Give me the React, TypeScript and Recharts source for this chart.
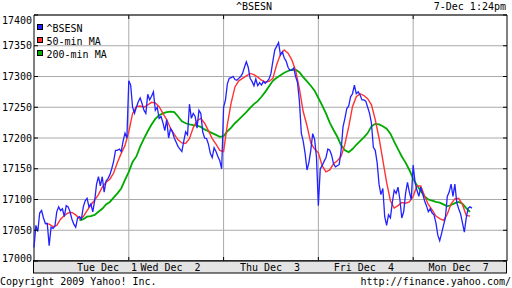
import React from 'react';
import {
  LineChart,
  Line,
  XAxis,
  YAxis,
  CartesianGrid,
  ReferenceLine,
  ReferenceArea,
} from 'recharts';

// x runs in day units: each trading day spans 100, Tue = 0..100, Wed = 100..200 ...
const DAY_NAMES = ['Tue Dec  1', 'Wed Dec  2', 'Thu Dec  3', 'Fri Dec  4', 'Mon Dec  7'];
const DAY_LABEL_AT = [77, 144, 249, 348, 448];
const DAY_BREAKS = [100, 200, 300, 400];
const Y_TICKS = [17000, 17050, 17100, 17150, 17200, 17250, 17300, 17350, 17400];

// ^BSESN, one reading every 2 units
const bseTue = [
  17022, 17058, 17048, 17078, 17082, 17070, 17061, 17061, 17025, 17055,
  17053, 17056, 17080, 17088, 17082, 17085, 17072, 17090, 17088, 17080,
  17068, 17060, 17055, 17070, 17072, 17068, 17088, 17098, 17102, 17088,
  17093, 17080, 17098, 17125, 17137, 17122, 17137, 17112, 17130, 17134,
  17140, 17150, 17162, 17180, 17180, 17182, 17178, 17195, 17208, 17200,
];
const bseWed = [
  17293, 17286, 17250, 17240, 17250, 17259, 17265, 17256, 17245, 17240,
  17271, 17262, 17268, 17275, 17245, 17250, 17232, 17235, 17225, 17212,
  17230, 17200, 17215, 17210, 17200, 17193, 17186, 17182, 17178, 17195,
  17210, 17205, 17255, 17232, 17240, 17235, 17216, 17245, 17240, 17210,
  17200, 17199, 17190, 17175, 17168, 17184, 17178, 17170, 17163, 17150,
];
const bseThu = [
  17250, 17262, 17288, 17297, 17298, 17300, 17295, 17294, 17297, 17300,
  17305, 17315, 17324, 17315, 17297, 17292, 17285, 17296, 17285, 17290,
  17286, 17292, 17289, 17292, 17296, 17305, 17325, 17343, 17349, 17355,
  17335, 17340, 17330, 17325, 17315, 17310, 17310, 17314, 17300, 17290,
  17260, 17208, 17195, 17175, 17148, 17160, 17180, 17207, 17198, 17169,
];
const bseFri = [
  17090, 17150, 17155, 17162, 17168, 17182, 17180, 17172, 17158, 17153,
  17155, 17157, 17180, 17218, 17232, 17248, 17252, 17267, 17272, 17286,
  17272, 17275, 17270, 17262, 17262, 17260, 17250, 17240, 17224, 17185,
  17180, 17160, 17125, 17108, 17118, 17072, 17058, 17075, 17070, 17095,
  17115, 17110, 17120, 17100, 17070, 17080, 17110, 17128, 17112, 17100,
];
const bseMon = [
  17156, 17128, 17115, 17105, 17120, 17110, 17098, 17090, 17080, 17085,
  17078, 17075, 17062, 17042, 17033, 17045, 17058, 17070, 17105, 17112,
  17125, 17105, 17125, 17095, 17085, 17077, 17062, 17047, 17070, 17086,
  17088, 17086,
];

// 50-min MA, one reading every 4 units (Tue starts at 12)
const ma50Tue = [
  17061, 17060, 17056, 17058, 17068, 17074, 17078, 17079, 17075, 17069,
  17072, 17082, 17091, 17099, 17108, 17120, 17128, 17133, 17143, 17160,
  17175, 17188,
];
const ma50Wed = [
  17210, 17240, 17251, 17252, 17250, 17254, 17258, 17257, 17251, 17240,
  17230, 17216, 17206, 17197, 17192, 17191, 17199, 17217, 17228, 17232,
  17224, 17212, 17199, 17190, 17180,
];
const ma50Thu = [
  17178, 17222, 17257, 17283, 17293, 17297, 17301, 17305, 17303, 17299,
  17294, 17291, 17292, 17297, 17319, 17336, 17343, 17338, 17327, 17310,
  17280, 17243, 17220, 17192, 17182,
];
const ma50Fri = [
  17176, 17155, 17145, 17148, 17158, 17163, 17170, 17190, 17218, 17251,
  17267, 17272, 17269, 17264, 17254, 17230, 17200, 17164, 17128, 17098,
  17086, 17090, 17095, 17094, 17096,
];
const ma50Mon = [
  17105, 17122, 17122, 17106, 17092, 17083, 17073, 17069, 17066, 17076,
  17093, 17101, 17102, 17092, 17074, 17073,
];

// 200-min MA, one reading every 4 units (Tue starts at 48)
const ma200Tue = [
  17066, 17068, 17072, 17073, 17075, 17080, 17085, 17092, 17096, 17103,
  17110, 17118, 17132,
];
const ma200Wed = [
  17145, 17161, 17170, 17186, 17199, 17211, 17222, 17231, 17237, 17240,
  17242, 17243, 17242, 17235, 17227, 17224, 17222, 17221, 17220, 17218,
  17214, 17211, 17208, 17205, 17202,
];
const ma200Thu = [
  17203, 17211, 17217, 17224, 17230, 17236, 17242, 17249, 17255, 17260,
  17267, 17275, 17284, 17293, 17298, 17302, 17306, 17309, 17311, 17311,
  17307, 17299, 17292, 17285, 17277,
];
const ma200Fri = [
  17265, 17253, 17240, 17225, 17213, 17202, 17188, 17180, 17177, 17182,
  17189, 17195, 17201, 17208, 17219, 17223, 17222, 17219, 17215, 17207,
  17194, 17182, 17170, 17160, 17148,
];
const ma200Mon = [
  17134, 17123, 17114, 17105, 17100, 17098, 17096, 17095, 17092, 17089,
  17091, 17094, 17096, 17093, 17086, 17080,
];

const toPoints = (days: number[][], step: number, firstStart: number) =>
  days.flatMap((vals, d) => {
    const start = d === 0 ? firstStart : d * 100;
    return vals.map((v, i) => ({ t: start + i * step, v }));
  });

const bsePoints = toPoints([bseTue, bseWed, bseThu, bseFri, bseMon], 2, 0);
const ma50Points = toPoints([ma50Tue, ma50Wed, ma50Thu, ma50Fri, ma50Mon], 4, 12);
const ma200Points = toPoints([ma200Tue, ma200Wed, ma200Thu, ma200Fri, ma200Mon], 4, 48);

const series = [
  { name: '^BSESN', color: '#2222ff' },
  { name: '50-min MA', color: '#ff3333' },
  { name: '200-min MA', color: '#00aa00' },
];

const FONT = '"DejaVu Sans Mono", monospace';
const GRID = '#aaaaaa';

const YTick = (props: any) => {
  const { y, payload } = props;
  const v = payload.value;
  const shift = v === 17400 ? 5 : v === 17000 ? -3 : 0;
  return (
    <g>
      <text x={32} y={y + shift} dy="0.35em" textAnchor="end" fontFamily={FONT} fontSize={10} fill="#000">
        {v}
      </text>
      <line x1={34} x2={38} y1={y} y2={y} stroke="#000" />
      <line x1={503} x2={507} y1={y} y2={y} stroke="#000" />
    </g>
  );
};

const XTick = (props: any) => {
  const { x, index } = props;
  return (
    <text x={x} y={271} textAnchor="middle" fontFamily={FONT} fontSize={10} fill="#000" style={{ whiteSpace: 'pre' }}>
      {DAY_NAMES[index]}
    </text>
  );
};

const App: React.FC = () => {
  return (
    <div style={{ position: 'absolute', left: 0, top: 0, width: 512, height: 288, background: '#fff' }}>
      <svg width={512} height={288} style={{ position: 'absolute', left: 0, top: 0 }}>
        <rect x={33.5} y={260.5} width={473} height={12.5} fill="#e3e3e3" stroke="#000" />
      </svg>
      <div style={{ position: 'absolute', left: 0, top: 0 }}>
        <LineChart width={512} height={288} margin={{ top: 15, right: 5, bottom: 14, left: 0 }}>
          <CartesianGrid vertical={false} stroke={GRID} />
          {DAY_BREAKS.map((d) => (
            <ReferenceLine key={d} x={d} stroke={GRID} />
          ))}
          {DAY_BREAKS.map((d) => (
            <ReferenceLine key={'b' + d} segment={[{ x: d, y: 17000 }, { x: d, y: 17006.5 }]} stroke="#000" />
          ))}
          {DAY_BREAKS.map((d) => (
            <ReferenceLine key={'t' + d} segment={[{ x: d, y: 17393.5 }, { x: d, y: 17400 }]} stroke="#000" />
          ))}
          <XAxis
            type="number"
            dataKey="t"
            domain={[0, 499]}
            ticks={DAY_LABEL_AT}
            interval={0}
            height={13}
            axisLine={false}
            tickLine={false}
            tick={<XTick />}
          />
          <YAxis
            type="number"
            domain={[17000, 17400]}
            ticks={Y_TICKS}
            interval={0}
            width={34}
            axisLine={false}
            tickLine={false}
            tick={<YTick />}
          />
          <Line data={ma200Points} dataKey="v" type="linear" stroke={series[2].color} strokeWidth={1.8} dot={false} isAnimationActive={false} />
          <Line data={ma50Points} dataKey="v" type="linear" stroke={series[1].color} strokeWidth={1.4} dot={false} isAnimationActive={false} />
          <Line data={bsePoints} dataKey="v" type="linear" stroke={series[0].color} strokeWidth={1.3} dot={false} isAnimationActive={false} />
          <ReferenceArea x1={0} x2={499} y1={17000} y2={17400} fill="none" stroke="#000" strokeWidth={1} />
        </LineChart>
      </div>
      <svg width={512} height={288} style={{ position: 'absolute', left: 0, top: 0, pointerEvents: 'none' }}>
        <g fontFamily={FONT} fontSize={10} fill="#000">
          <text x={254} y={10} textAnchor="middle">^BSESN</text>
          <text x={506} y={10} textAnchor="end">7-Dec 1:24pm</text>
          <text x={0} y={285}>Copyright 2009 Yahoo! Inc.</text>
          <text x={511} y={285} textAnchor="end">http://finance.yahoo.com/</text>
          {series.map((s, i) => (
            <g key={s.name}>
              <rect x={37.5} y={24.5 + i * 13} width={5} height={5} fill={s.color} stroke="#000" />
              <text x={46.5} y={32 + i * 13}>{s.name}</text>
            </g>
          ))}
        </g>
      </svg>
    </div>
  );
};

export default App;
